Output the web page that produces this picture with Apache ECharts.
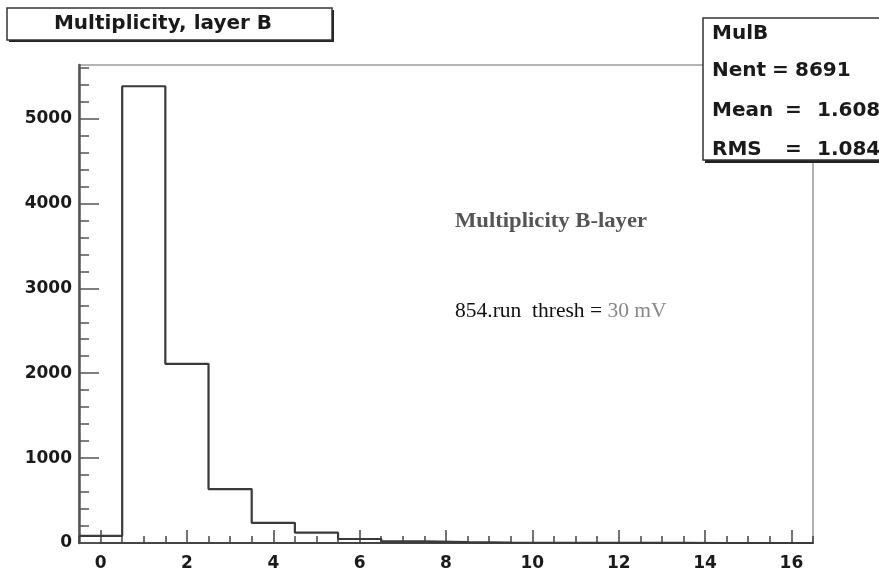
<!DOCTYPE html>
<html>
<head>
<meta charset="utf-8">
<script src="https://cdn.jsdelivr.net/npm/echarts@6/dist/echarts.min.js"></script>
<style>
html,body{margin:0;padding:0;background:#fff;}
#chart{width:879px;height:576px;}
</style>
</head>
<body>
<div id="chart"></div>
<script>
// ---- data ----
const bins = [0, 1, 2, 3, 4, 5, 6, 7, 8, 9, 10, 11, 12, 13, 14, 15, 16];
const counts = [85, 5380, 2110, 635, 238, 122, 47, 18, 10, 5, 3, 2, 1, 1, 0, 0, 0];
const xMajorTicks = [0, 2, 4, 6, 8, 10, 12, 14, 16];
const xMinorTicks = [-0.5, 0.5, 1, 1.5, 2.5, 3, 3.5, 4.5, 5, 5.5, 6.5, 7, 7.5, 8.5, 9, 9.5, 10.5, 11, 11.5, 12.5, 13, 13.5, 14.5, 15, 15.5, 16.5];
const yMajorTicks = [0, 1000, 2000, 3000, 4000, 5000];
const yMinorTicks = [200, 400, 600, 800, 1200, 1400, 1600, 1800, 2200, 2400, 2600, 2800, 3200, 3400, 3600, 3800, 4200, 4400, 4600, 4800, 5200, 5400, 5600];
const histTitle = 'Multiplicity, layer B';
const statsName = 'MulB';
const statsRows = [['Nent', '=', '8691'], ['Mean', '=', '1.608'], ['RMS', '=', '1.084']];
const noteTitle = 'Multiplicity B-layer';
const noteRun = '854.run  thresh = ';
const noteThresh = '30 mV';

// histogram outline: bin left edges (bin width 1) and the last right edge
const stepPts = counts.map((c, i) => [bins[i] - 0.5, c]);
stepPts.push([bins[bins.length - 1] + 0.5, counts[counts.length - 1]]);

const chart = echarts.init(document.getElementById('chart'), null, {renderer: 'canvas'});
const labelFont = {fontFamily: 'DejaVu Sans', fontWeight: 'bold', fontSize: 17, color: '#1a1a1a'};
const statFont = {fontFamily: 'DejaVu Sans', fontWeight: 'bold', fontSize: 20, fill: '#1a1a1a', verticalAlign: 'middle'};
function st(x, y, text) {
  return {type: 'text', x: x, y: y, style: Object.assign({text: text}, statFont)};
}

const option = {
  backgroundColor: '#fff',
  animation: false,
  grid: {left: 79, right: 66, top: 65, bottom: 33, show: true, borderColor: '#9a9a9a', borderWidth: 1.5, backgroundColor: 'transparent'},
  xAxis: [
    {
      type: 'value', min: -0.5, max: 16.5, position: 'bottom',
      axisLine: {show: true, onZero: false, lineStyle: {color: '#444', width: 2}},
      axisTick: {show: true, inside: true, length: 13, customValues: xMajorTicks, lineStyle: {color: '#444', width: 1.5}},
      axisLabel: Object.assign({show: true, margin: 12, customValues: xMajorTicks, formatter: v => String(v)}, labelFont),
      splitLine: {show: false}
    },
    {
      type: 'value', min: -0.5, max: 16.5, position: 'bottom',
      axisLine: {show: false, onZero: false},
      axisTick: {show: true, inside: true, length: 7, customValues: xMinorTicks, lineStyle: {color: '#444', width: 1.5}},
      axisLabel: {show: false},
      splitLine: {show: false}
    }
  ],
  yAxis: [
    {
      type: 'value', min: 0, max: 5630, position: 'left',
      axisLine: {show: true, onZero: false, lineStyle: {color: '#555', width: 2.5}},
      axisTick: {show: true, inside: true, length: 20, customValues: yMajorTicks, lineStyle: {color: '#555', width: 1.5}},
      axisLabel: Object.assign({show: true, margin: 7, customValues: yMajorTicks, formatter: v => String(v)}, labelFont),
      splitLine: {show: false}
    },
    {
      type: 'value', min: 0, max: 5630, position: 'left',
      axisLine: {show: false, onZero: false},
      axisTick: {show: true, inside: true, length: 10, customValues: yMinorTicks, lineStyle: {color: '#555', width: 1.5}},
      axisLabel: {show: false},
      splitLine: {show: false}
    }
  ],
  series: [{
    type: 'line',
    xAxisIndex: 0, yAxisIndex: 0,
    data: stepPts,
    step: 'end',
    showSymbol: false,
    symbol: 'none',
    clip: true,
    lineStyle: {color: '#3a3a3a', width: 2.2},
    z: 3
  }],
  graphic: [
    {
      type: 'group', z: 100, children: [
        {type: 'rect', shape: {x: 9, y: 10, width: 325, height: 32}, style: {fill: '#222'}},
        {type: 'rect', shape: {x: 7, y: 8, width: 325, height: 32}, style: {fill: '#fff', stroke: '#333', lineWidth: 1.5}},
        {type: 'text', x: 163, y: 24, style: {text: histTitle, fontFamily: 'DejaVu Sans', fontWeight: 'bold', fontSize: 20, fill: '#1a1a1a', align: 'center', verticalAlign: 'middle'}}
      ]
    },
    {
      type: 'group', z: 100, children: [
        {type: 'rect', shape: {x: 705, y: 20, width: 200, height: 143}, style: {fill: '#222'}},
        {type: 'rect', shape: {x: 703, y: 18, width: 200, height: 142}, style: {fill: '#fff', stroke: '#333', lineWidth: 1.5}},
        st(712, 34, statsName),
        st(712, 71, statsRows[0][0]),
        st(772, 71, statsRows[0][1]),
        st(795, 71, statsRows[0][2]),
        st(712, 111, statsRows[1][0]),
        st(785, 111, statsRows[1][1]),
        st(817, 111, statsRows[1][2]),
        st(712, 150, statsRows[2][0]),
        st(785, 150, statsRows[2][1]),
        st(817, 150, statsRows[2][2])
      ]
    },
    {
      type: 'text', z: 100, x: 551, y: 222, scaleX: 1.08, originX: 0,
      style: {text: noteTitle, fontFamily: 'Liberation Serif', fontWeight: 'bold', fontSize: 21, fill: '#555', align: 'center', verticalAlign: 'middle'}
    },
    {
      type: 'text', z: 100, x: 455, y: 311,
      style: {
        text: '{a|' + noteRun + '}{b|' + noteThresh + '}',
        verticalAlign: 'middle',
        rich: {
          a: {fontFamily: 'Liberation Serif', fontSize: 21.5, fill: '#111', color: '#111'},
          b: {fontFamily: 'Liberation Serif', fontSize: 21.5, fill: '#888', color: '#888'}
        }
      }
    }
  ]
};
chart.setOption(option);
</script>
</body>
</html>
